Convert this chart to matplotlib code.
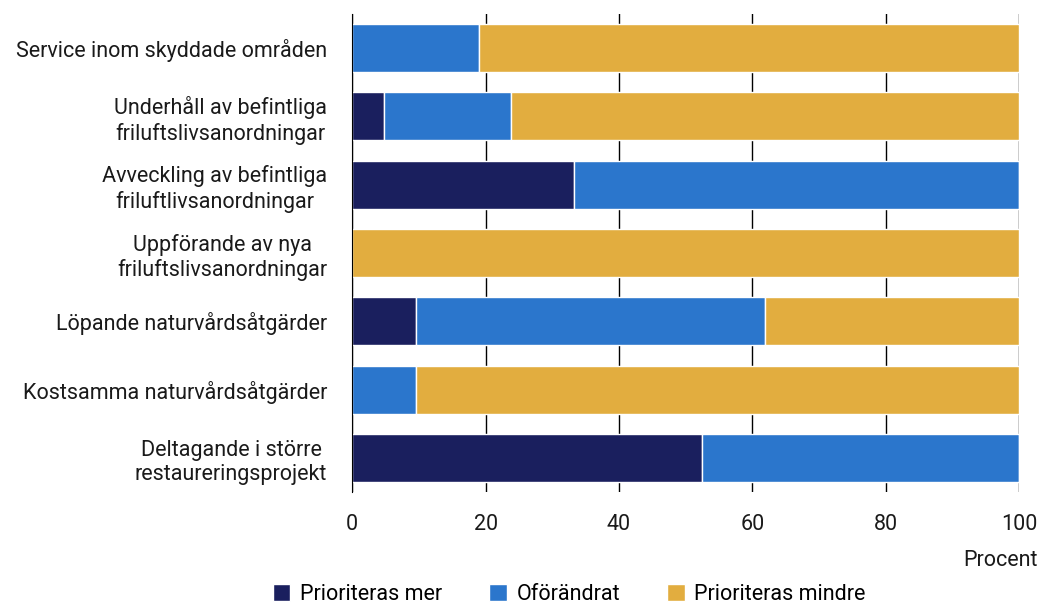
import matplotlib.pyplot as plt
import numpy as np

# Kategorier (uppifrån och ned)
categories = [
    "Service inom skyddade områden",
    "Underhåll av befintliga\nfriluftslivsanordningar",
    "Avveckling av befintliga\nfriluftlivsanordningar",
    "Uppförande av nya\nfriluftslivsanordningar",
    "Löpande naturvårdsåtgärder",
    "Kostsamma naturvårdsåtgärder",
    "Deltagande i större\nrestaureringsprojekt",
]

# Andelar i procent
prioriteras_mer = [0, 4.8, 33.3, 0, 9.5, 0, 52.4]
oforandrat = [19.0, 19.0, 66.7, 0, 52.4, 9.5, 47.6]
prioriteras_mindre = [81.0, 76.2, 0, 100, 38.1, 90.5, 0]

series_labels = ["Prioriteras mer", "Oförändrat", "Prioriteras mindre"]
colors = ["#1a1f5e", "#2b76cc", "#e2ad3f"]

plt.rcParams['font.family'] = ['Roboto', 'DejaVu Sans']
fs = 15.5

fig = plt.figure(figsize=(10.39, 6.04), dpi=100)
ax = fig.add_axes([0.339, 0.185, 0.642, 0.792])

y = np.arange(len(categories))
left = np.zeros(len(categories))
for vals, label, color in zip([prioriteras_mer, oforandrat, prioriteras_mindre], series_labels, colors):
    vals = np.array(vals)
    ax.barh(y, vals, left=left, height=0.7, color=color, edgecolor="white",
            linewidth=1, label=label, zorder=3)
    left += vals

ax.set_ylim(len(categories) - 0.5, -0.5)
ax.set_xlim(0, 100)
ax.set_xticks([0, 20, 40, 60, 80, 100])
ax.set_yticks(y)
ax.set_yticklabels(categories, fontsize=fs, multialignment="center")
ax.tick_params(axis="both", length=0, labelsize=fs, colors="#1a1a1a")
ax.tick_params(axis="y", pad=18)
ax.tick_params(axis="x", pad=16)

ax.grid(axis="x", color="black", linewidth=1, zorder=0)
for s in ["top", "right", "bottom"]:
    ax.spines[s].set_visible(False)
ax.spines["left"].set_color("black")
ax.spines["left"].set_zorder(4)

ax.text(1.027, -0.143, "Procent", transform=ax.transAxes, ha="right", va="center",
        fontsize=fs, color="#1a1a1a")

fig.legend(loc="center", bbox_to_anchor=(0.548, 0.016), ncol=3, frameon=False,
           fontsize=fs, handlelength=0.8, handleheight=0.8, columnspacing=2.2,
           handletextpad=0.45)

fig.savefig("out.png", dpi=100)
